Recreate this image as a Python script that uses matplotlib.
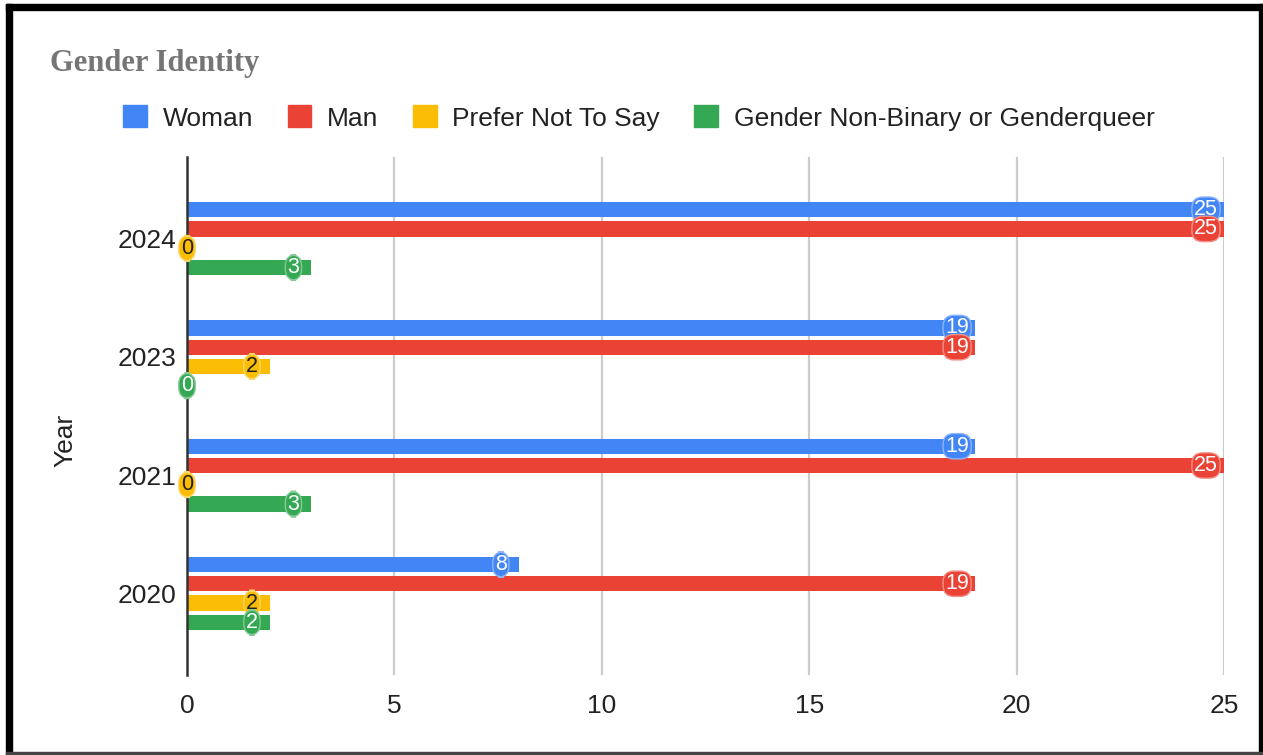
import matplotlib.pyplot as plt
from matplotlib.patches import Patch, Rectangle

years = ["2020", "2021", "2023", "2024"]
series = ["Woman", "Man", "Prefer Not To Say", "Gender Non-Binary or Genderqueer"]
woman = [8, 19, 19, 25]
man = [19, 25, 19, 25]
prefer_not = [2, 0, 2, 0]
non_binary = [2, 3, 0, 3]

colors = ["#4285F4", "#EA4335", "#FBBC04", "#34A853"]
edge_colors = ["#8fb4f8", "#f29088", "#fdd668", "#85c997"]
text_colors = ["white", "white", "#202124", "white"]

W, H = 1263, 755
plt.rcParams["font.family"] = ["Liberation Sans", "DejaVu Sans"]

fig = plt.figure(figsize=(W / 100, H / 100), dpi=100)
ax = fig.add_axes([187 / W, 1 - 675 / H, (1224 - 187) / W, (675 - 157) / H])

step = 0.163
bar_h = 0.128
values = [woman, man, prefer_not, non_binary]
for j, vals in enumerate(values):
    ys = [i + (1.5 - j) * step for i in range(len(years))]
    ax.barh(ys, vals, height=bar_h, color=colors[j], zorder=3, label=series[j])
    for y, v in zip(ys, vals):
        dx = -18 if v > 0 else 0
        ax.annotate(str(v), xy=(v, y), xytext=(dx, 0), textcoords="offset pixels",
                    ha="center", va="center", fontsize=15.5, color=text_colors[j], zorder=5,
                    bbox=dict(boxstyle="round,pad=0.1,rounding_size=0.5",
                              fc=colors[j], ec=edge_colors[j], lw=1))

ax.set_xlim(0, 25)
ax.set_ylim(-0.69, 3.69)
ax.set_xticks([0, 5, 10, 15, 20, 25])
ax.set_yticks(range(len(years)))
ax.set_yticklabels(years)
ax.tick_params(axis="both", length=0, labelsize=19, colors="#222222")
ax.tick_params(axis="x", pad=14)
ax.tick_params(axis="y", pad=8)
ax.grid(axis="x", color="#cccccc", lw=1.6, zorder=0)
for s in ["top", "right", "bottom"]:
    ax.spines[s].set_visible(False)
ax.spines["left"].set_color("#333333")
ax.spines["left"].set_linewidth(1.8)
ax.spines["left"].set_zorder(4)

fig.text(65 / W, 1 - 440 / H, "Year", rotation=90, ha="center", va="center",
         fontsize=19, color="#222222")
fig.text(50 / W, 1 - 64 / H, "Gender Identity", ha="left", va="center",
         fontsize=22, fontweight="bold", color="#757575", family="Liberation Serif")

handles = [Patch(facecolor=c, edgecolor=c) for c in colors]
fig.legend(handles, series, loc="center left", bbox_to_anchor=(110 / W, 1 - 118 / H),
           ncol=4, frameon=False, fontsize=19, handlelength=0.9, handleheight=0.9,
           handletextpad=0.6, columnspacing=1.3, borderpad=0, labelcolor="#222222")

# black frame around the chart
fig.patches.append(Rectangle((6 / W, 0), 6 / W, 1 - 4 / H, transform=fig.transFigure,
                             color="black", zorder=10))
fig.patches.append(Rectangle((6 / W, 1 - 10 / H), 1, 6 / H, transform=fig.transFigure,
                             color="black", zorder=10))
fig.patches.append(Rectangle((1259 / W, 0), 4 / W, 1 - 4 / H, transform=fig.transFigure,
                             color="black", zorder=10))
fig.patches.append(Rectangle((6 / W, 1 / H), 1, 2 / H, transform=fig.transFigure,
                             color="#444444", zorder=10))

fig.savefig("out.png", dpi=100)
